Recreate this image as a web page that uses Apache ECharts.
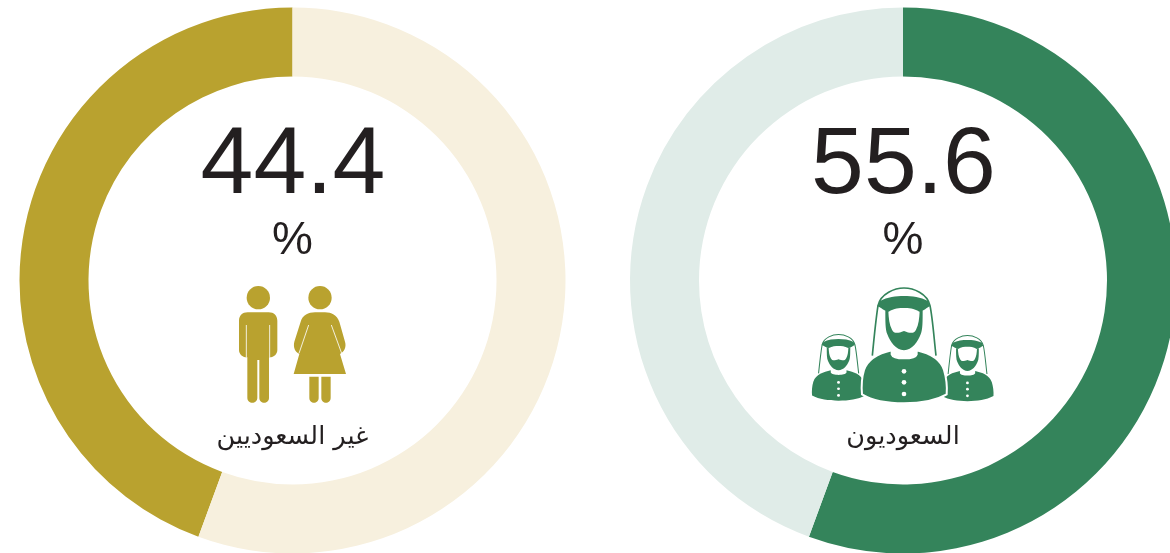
<!DOCTYPE html>
<html><head><meta charset="utf-8">
<style>html,body{margin:0;padding:0;background:#fff;overflow:hidden}#c{width:1170px;height:553px}</style>
<script src="https://cdn.jsdelivr.net/npm/echarts@6/dist/echarts.min.js"></script></head>
<body><div id="c"></div>
<script>
const categories = ['غير السعوديين', 'السعوديون'];
const nonSaudiValues = [44.4, 55.6];
const saudiValues = [55.6, 44.4];
const valueLabels = ['44.4', '55.6'];
const unitLabel = '%';

const GOLD = '#B9A22F', GOLD_L = '#F7F0DE', GREEN = '#34845B', GREEN_L = '#E0ECE8', INK = '#231F20';
const CX = [292.5, 903], CY = 280.5;
const FONT = '"Liberation Sans", Arial, sans-serif';
const AR = '"DejaVu Sans", "Noto Sans", sans-serif';

const G = echarts.graphic;
const shapes = {
  manBody: 'M143,127 L206,127 C222,127 232,137 232,152 L232,240 C232,252 222,262 209,262 L207,262 L207,383 C207,403 178,403 178,383 L178,270 L172,270 L172,383 C172,403 142,403 142,383 L142,262 L140,262 C127,262 117,252 117,240 L117,152 C117,137 127,127 143,127 Z',
  manLines: 'M139,165 L139,262 M209,165 L209,262',
  womanBody: 'M345,127 L375,127 C395,127 410,135 418,155 L435,215 C440,232 432,245 420,252 L438,312 L281,312 L298,252 C285,245 279,232 283,215 L302,155 C308,135 325,127 345,127 Z M328,320 L356,320 L356,383 C356,403 328,403 328,383 Z M364,320 L392,320 L392,383 C392,403 364,403 364,383 Z',
  womanLines: 'M326,165 L297,250 M394,165 L425,250',
  saudiBody: 'M275,226 C240,234 205,248 192,285 C186,305 184,335 186,358 C220,378 265,385 312,385 C360,385 405,378 440,358 C442,335 438,305 432,285 C420,248 385,234 350,226 L350,238 C345,254 280,254 275,238 Z',
  saudiBand: 'M240,78 C262,66 288,63 312,63 C336,63 362,66 384,78 L390,94 C380,98 372,108 358,110 C342,100 325,99 312,99 C298,99 282,100 266,110 C252,108 244,98 232,94 Z',
  saudiBeard: 'M256,106 C256,140 256,165 262,178 C270,200 288,226 312,226 C336,226 354,200 362,178 C368,165 368,140 368,106 L359,108 C358,130 356,150 348,164 C342,176 332,176 312,168 C292,176 282,176 276,164 C268,150 266,130 265,108 Z',
  saudiLine: 'M217,242 C222,190 228,130 234,92 C242,55 285,39 312,39 C340,39 382,55 390,92 C398,130 402,190 408,242'
};
Object.keys(shapes).forEach(k => G.registerShape(k, G.extendPath(shapes[k])));

const Z = 1 / 3;
function people(ox, oy) {
  return { type: 'group', silent: true, x: ox, y: oy, scaleX: Z, scaleY: Z, children: [
    { type: 'circle', shape: { cx: 175, cy: 83, r: 35 }, style: { fill: GOLD } },
    { type: 'manBody', style: { fill: GOLD } },
    { type: 'manLines', style: { fill: null, stroke: '#fff', lineWidth: 2.5 } },
    { type: 'circle', shape: { cx: 360, cy: 83, r: 35 }, style: { fill: GOLD } },
    { type: 'womanBody', style: { fill: GOLD } },
    { type: 'womanLines', style: { fill: null, stroke: '#fff', lineWidth: 2.5 } }
  ] };
}
function saudi(ox, oy, sx, sy, halo) {
  const kids = [
    { type: 'saudiLine', style: { fill: null, stroke: GREEN, lineWidth: 5 } },
    { type: 'saudiBody', style: { fill: GREEN, stroke: halo ? '#fff' : null, lineWidth: halo ? 6 : 0 } },
    { type: 'saudiBand', style: { fill: GREEN } },
    { type: 'saudiBeard', style: { fill: GREEN } }
  ];
  [289, 322, 357].forEach(y => kids.push({ type: 'circle', shape: { cx: 312, cy: y, r: 7 }, style: { fill: '#fff' } }));
  return { type: 'group', silent: true, x: ox, y: oy, scaleX: sx * Z, scaleY: sy * Z, children: kids };
}
function txt(x, y, text, size, font) {
  return { type: 'text', silent: true, x, y, style: { text, fill: INK, font: size + 'px ' + font, textAlign: 'center', textVerticalAlign: 'middle' } };
}
function ring(cx, data, colors, clockwise) {
  return {
    type: 'pie', center: [cx, CY], radius: [204, 273], startAngle: 90, clockwise, silent: true,
    label: { show: false }, labelLine: { show: false }, emphasis: { disabled: true },
    animation: false,
    data: data.map((v, i) => ({ value: v, name: i ? '' : categories[CX.indexOf(cx)], itemStyle: { color: colors[i] } }))
  };
}

const chart = echarts.init(document.getElementById('c'), null, { renderer: 'canvas' });
chart.setOption({
  animation: false,
  series: [
    ring(CX[0], nonSaudiValues, [GOLD, GOLD_L], false),
    ring(CX[1], saudiValues, [GREEN, GREEN_L], true)
  ],
  graphic: { elements: [
    txt(CX[0] + 0.5, 167, valueLabels[0], 95, FONT),
    txt(CX[1] + 0.5, 167, valueLabels[1], 95, FONT),
    txt(CX[0], 241, unitLabel, 46, FONT),
    txt(CX[1], 241, unitLabel, 46, FONT),
    txt(CX[0], 437, categories[0], 25.5, AR),
    txt(CX[1], 437, categories[1], 25.5, AR),
    people(200, 270),
    saudi(773, 327, 0.63, 0.575, false),
    saudi(904, 328, 0.61, 0.57, false),
    saudi(800, 275, 1, 1, true)
  ] }
});
</script></body></html>
